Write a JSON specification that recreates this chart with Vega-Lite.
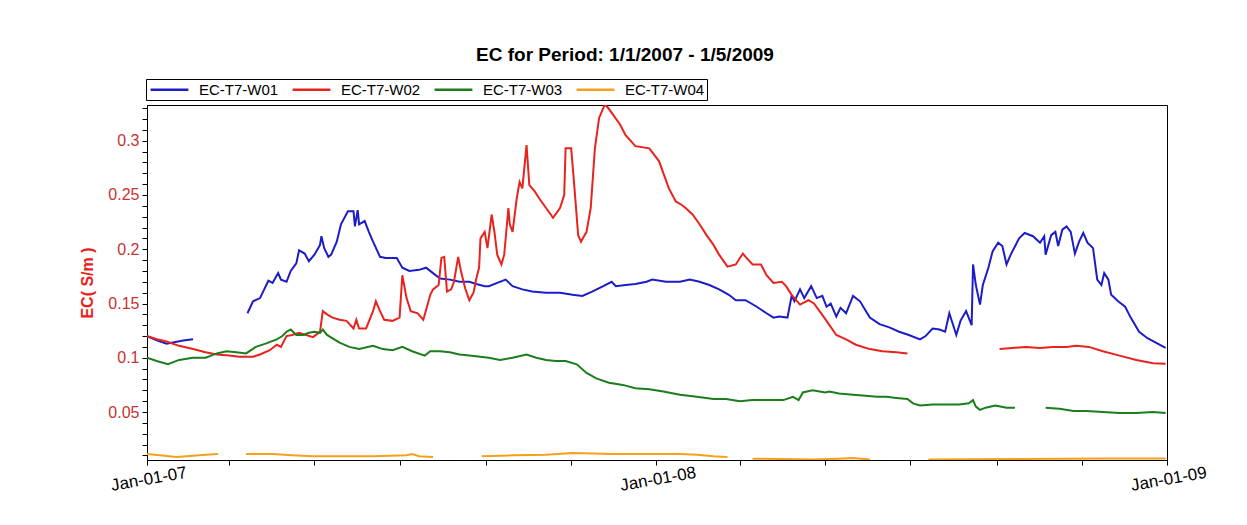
{
"$schema":"https://vega.github.io/schema/vega-lite/v6.json",
"autosize":{"type":"none"},
"padding":{"left":147,"top":105,"right":80,"bottom":65},
"width":1020,"height":355,
"background":"white",
"title":{"text":"EC for Period: 1/1/2007 - 1/5/2009","font":"Liberation Sans","fontSize":19,"fontWeight":"bold","color":"black","anchor":"middle","dx":-32,"offset":-1,"baseline":"alphabetic"},
"data":{"values":[
{"s":"EC-T7-W01","g":1,"d":"2007-01-01","v":0.120},{"s":"EC-T7-W01","g":1,"d":"2007-01-08","v":0.116},{"s":"EC-T7-W01","g":1,"d":"2007-01-15","v":0.113},{"s":"EC-T7-W01","g":1,"d":"2007-01-27","v":0.116},{"s":"EC-T7-W01","g":1,"d":"2007-02-03","v":0.117},
{"s":"EC-T7-W01","g":2,"d":"2007-03-14","v":0.141},{"s":"EC-T7-W01","g":2,"d":"2007-03-18","v":0.152},{"s":"EC-T7-W01","g":2,"d":"2007-03-23","v":0.155},{"s":"EC-T7-W01","g":2,"d":"2007-03-26","v":0.163},{"s":"EC-T7-W01","g":2,"d":"2007-03-29","v":0.171},{"s":"EC-T7-W01","g":2,"d":"2007-04-01","v":0.169},{"s":"EC-T7-W01","g":2,"d":"2007-04-05","v":0.178},{"s":"EC-T7-W01","g":2,"d":"2007-04-07","v":0.172},{"s":"EC-T7-W01","g":2,"d":"2007-04-11","v":0.170},{"s":"EC-T7-W01","g":2,"d":"2007-04-14","v":0.180},{"s":"EC-T7-W01","g":2,"d":"2007-04-18","v":0.187},{"s":"EC-T7-W01","g":2,"d":"2007-04-20","v":0.199},{"s":"EC-T7-W01","g":2,"d":"2007-04-24","v":0.196},{"s":"EC-T7-W01","g":2,"d":"2007-04-27","v":0.189},{"s":"EC-T7-W01","g":2,"d":"2007-05-01","v":0.195},{"s":"EC-T7-W01","g":2,"d":"2007-05-05","v":0.204},{"s":"EC-T7-W01","g":2,"d":"2007-05-06","v":0.212},{"s":"EC-T7-W01","g":2,"d":"2007-05-08","v":0.201},{"s":"EC-T7-W01","g":2,"d":"2007-05-11","v":0.193},{"s":"EC-T7-W01","g":2,"d":"2007-05-13","v":0.195},{"s":"EC-T7-W01","g":2,"d":"2007-05-17","v":0.207},{"s":"EC-T7-W01","g":2,"d":"2007-05-20","v":0.223},{"s":"EC-T7-W01","g":2,"d":"2007-05-25","v":0.235},{"s":"EC-T7-W01","g":2,"d":"2007-05-29","v":0.235},{"s":"EC-T7-W01","g":2,"d":"2007-05-30","v":0.221},{"s":"EC-T7-W01","g":2,"d":"2007-06-01","v":0.236},{"s":"EC-T7-W01","g":2,"d":"2007-06-02","v":0.223},{"s":"EC-T7-W01","g":2,"d":"2007-06-06","v":0.226},{"s":"EC-T7-W01","g":2,"d":"2007-06-09","v":0.216},{"s":"EC-T7-W01","g":2,"d":"2007-06-12","v":0.207},{"s":"EC-T7-W01","g":2,"d":"2007-06-17","v":0.193},{"s":"EC-T7-W01","g":2,"d":"2007-06-21","v":0.192},{"s":"EC-T7-W01","g":2,"d":"2007-06-29","v":0.192},{"s":"EC-T7-W01","g":2,"d":"2007-07-03","v":0.183},{"s":"EC-T7-W01","g":2,"d":"2007-07-08","v":0.180},{"s":"EC-T7-W01","g":2,"d":"2007-07-15","v":0.181},{"s":"EC-T7-W01","g":2,"d":"2007-07-20","v":0.183},{"s":"EC-T7-W01","g":2,"d":"2007-07-25","v":0.178},{"s":"EC-T7-W01","g":2,"d":"2007-07-30","v":0.173},{"s":"EC-T7-W01","g":2,"d":"2007-08-06","v":0.172},{"s":"EC-T7-W01","g":2,"d":"2007-08-13","v":0.170},{"s":"EC-T7-W01","g":2,"d":"2007-08-20","v":0.170},{"s":"EC-T7-W01","g":2,"d":"2007-08-25","v":0.168},{"s":"EC-T7-W01","g":2,"d":"2007-08-31","v":0.166},{"s":"EC-T7-W01","g":2,"d":"2007-09-03","v":0.166},{"s":"EC-T7-W01","g":2,"d":"2007-09-09","v":0.169},{"s":"EC-T7-W01","g":2,"d":"2007-09-15","v":0.172},{"s":"EC-T7-W01","g":2,"d":"2007-09-20","v":0.166},{"s":"EC-T7-W01","g":2,"d":"2007-09-27","v":0.163},{"s":"EC-T7-W01","g":2,"d":"2007-10-04","v":0.161},{"s":"EC-T7-W01","g":2,"d":"2007-10-14","v":0.160},{"s":"EC-T7-W01","g":2,"d":"2007-10-24","v":0.160},{"s":"EC-T7-W01","g":2,"d":"2007-11-02","v":0.158},{"s":"EC-T7-W01","g":2,"d":"2007-11-09","v":0.157},{"s":"EC-T7-W01","g":2,"d":"2007-11-16","v":0.161},{"s":"EC-T7-W01","g":2,"d":"2007-11-24","v":0.166},{"s":"EC-T7-W01","g":2,"d":"2007-11-30","v":0.170},{"s":"EC-T7-W01","g":2,"d":"2007-12-03","v":0.166},{"s":"EC-T7-W01","g":2,"d":"2007-12-10","v":0.167},{"s":"EC-T7-W01","g":2,"d":"2007-12-17","v":0.168},{"s":"EC-T7-W01","g":2,"d":"2007-12-25","v":0.170},{"s":"EC-T7-W01","g":2,"d":"2007-12-29","v":0.172},{"s":"EC-T7-W01","g":2,"d":"2008-01-08","v":0.170},{"s":"EC-T7-W01","g":2,"d":"2008-01-18","v":0.170},{"s":"EC-T7-W01","g":2,"d":"2008-01-25","v":0.172},{"s":"EC-T7-W01","g":2,"d":"2008-02-01","v":0.170},{"s":"EC-T7-W01","g":2,"d":"2008-02-08","v":0.167},{"s":"EC-T7-W01","g":2,"d":"2008-02-15","v":0.163},{"s":"EC-T7-W01","g":2,"d":"2008-02-22","v":0.158},{"s":"EC-T7-W01","g":2,"d":"2008-02-27","v":0.153},{"s":"EC-T7-W01","g":2,"d":"2008-03-05","v":0.153},{"s":"EC-T7-W01","g":2,"d":"2008-03-13","v":0.147},{"s":"EC-T7-W01","g":2,"d":"2008-03-20","v":0.141},{"s":"EC-T7-W01","g":2,"d":"2008-03-25","v":0.137},{"s":"EC-T7-W01","g":2,"d":"2008-03-29","v":0.138},{"s":"EC-T7-W01","g":2,"d":"2008-04-04","v":0.137},{"s":"EC-T7-W01","g":2,"d":"2008-04-07","v":0.157},{"s":"EC-T7-W01","g":2,"d":"2008-04-09","v":0.152},{"s":"EC-T7-W01","g":2,"d":"2008-04-13","v":0.163},{"s":"EC-T7-W01","g":2,"d":"2008-04-16","v":0.155},{"s":"EC-T7-W01","g":2,"d":"2008-04-21","v":0.166},{"s":"EC-T7-W01","g":2,"d":"2008-04-25","v":0.155},{"s":"EC-T7-W01","g":2,"d":"2008-04-29","v":0.157},{"s":"EC-T7-W01","g":2,"d":"2008-05-02","v":0.147},{"s":"EC-T7-W01","g":2,"d":"2008-05-05","v":0.150},{"s":"EC-T7-W01","g":2,"d":"2008-05-09","v":0.138},{"s":"EC-T7-W01","g":2,"d":"2008-05-12","v":0.146},{"s":"EC-T7-W01","g":2,"d":"2008-05-16","v":0.141},{"s":"EC-T7-W01","g":2,"d":"2008-05-21","v":0.157},{"s":"EC-T7-W01","g":2,"d":"2008-05-26","v":0.152},{"s":"EC-T7-W01","g":2,"d":"2008-06-02","v":0.137},{"s":"EC-T7-W01","g":2,"d":"2008-06-09","v":0.131},{"s":"EC-T7-W01","g":2,"d":"2008-06-16","v":0.128},{"s":"EC-T7-W01","g":2,"d":"2008-06-23","v":0.124},{"s":"EC-T7-W01","g":2,"d":"2008-06-30","v":0.121},{"s":"EC-T7-W01","g":2,"d":"2008-07-08","v":0.117},{"s":"EC-T7-W01","g":2,"d":"2008-07-12","v":0.120},{"s":"EC-T7-W01","g":2,"d":"2008-07-17","v":0.127},{"s":"EC-T7-W01","g":2,"d":"2008-07-22","v":0.126},{"s":"EC-T7-W01","g":2,"d":"2008-07-26","v":0.124},{"s":"EC-T7-W01","g":2,"d":"2008-07-29","v":0.141},{"s":"EC-T7-W01","g":2,"d":"2008-08-03","v":0.121},{"s":"EC-T7-W01","g":2,"d":"2008-08-06","v":0.134},{"s":"EC-T7-W01","g":2,"d":"2008-08-10","v":0.143},{"s":"EC-T7-W01","g":2,"d":"2008-08-14","v":0.130},{"s":"EC-T7-W01","g":2,"d":"2008-08-15","v":0.186},{"s":"EC-T7-W01","g":2,"d":"2008-08-17","v":0.167},{"s":"EC-T7-W01","g":2,"d":"2008-08-20","v":0.149},{"s":"EC-T7-W01","g":2,"d":"2008-08-22","v":0.167},{"s":"EC-T7-W01","g":2,"d":"2008-08-26","v":0.183},{"s":"EC-T7-W01","g":2,"d":"2008-08-29","v":0.198},{"s":"EC-T7-W01","g":2,"d":"2008-09-02","v":0.206},{"s":"EC-T7-W01","g":2,"d":"2008-09-05","v":0.203},{"s":"EC-T7-W01","g":2,"d":"2008-09-08","v":0.186},{"s":"EC-T7-W01","g":2,"d":"2008-09-11","v":0.195},{"s":"EC-T7-W01","g":2,"d":"2008-09-17","v":0.210},{"s":"EC-T7-W01","g":2,"d":"2008-09-21","v":0.215},{"s":"EC-T7-W01","g":2,"d":"2008-09-27","v":0.212},{"s":"EC-T7-W01","g":2,"d":"2008-10-02","v":0.206},{"s":"EC-T7-W01","g":2,"d":"2008-10-05","v":0.212},{"s":"EC-T7-W01","g":2,"d":"2008-10-06","v":0.195},{"s":"EC-T7-W01","g":2,"d":"2008-10-10","v":0.213},{"s":"EC-T7-W01","g":2,"d":"2008-10-13","v":0.216},{"s":"EC-T7-W01","g":2,"d":"2008-10-15","v":0.203},{"s":"EC-T7-W01","g":2,"d":"2008-10-18","v":0.218},{"s":"EC-T7-W01","g":2,"d":"2008-10-21","v":0.221},{"s":"EC-T7-W01","g":2,"d":"2008-10-24","v":0.216},{"s":"EC-T7-W01","g":2,"d":"2008-10-27","v":0.196},{"s":"EC-T7-W01","g":2,"d":"2008-10-30","v":0.207},{"s":"EC-T7-W01","g":2,"d":"2008-11-02","v":0.215},{"s":"EC-T7-W01","g":2,"d":"2008-11-05","v":0.206},{"s":"EC-T7-W01","g":2,"d":"2008-11-09","v":0.201},{"s":"EC-T7-W01","g":2,"d":"2008-11-12","v":0.172},{"s":"EC-T7-W01","g":2,"d":"2008-11-15","v":0.167},{"s":"EC-T7-W01","g":2,"d":"2008-11-17","v":0.178},{"s":"EC-T7-W01","g":2,"d":"2008-11-20","v":0.172},{"s":"EC-T7-W01","g":2,"d":"2008-11-22","v":0.158},{"s":"EC-T7-W01","g":2,"d":"2008-11-27","v":0.152},{"s":"EC-T7-W01","g":2,"d":"2008-12-02","v":0.147},{"s":"EC-T7-W01","g":2,"d":"2008-12-06","v":0.137},{"s":"EC-T7-W01","g":2,"d":"2008-12-12","v":0.124},{"s":"EC-T7-W01","g":2,"d":"2008-12-18","v":0.118},{"s":"EC-T7-W01","g":2,"d":"2008-12-24","v":0.114},{"s":"EC-T7-W01","g":2,"d":"2008-12-31","v":0.109},
{"s":"EC-T7-W02","g":1,"d":"2007-01-01","v":0.120},{"s":"EC-T7-W02","g":1,"d":"2007-01-08","v":0.117},{"s":"EC-T7-W02","g":1,"d":"2007-01-15","v":0.115},{"s":"EC-T7-W02","g":1,"d":"2007-01-24","v":0.111},{"s":"EC-T7-W02","g":1,"d":"2007-02-03","v":0.108},{"s":"EC-T7-W02","g":1,"d":"2007-02-12","v":0.105},{"s":"EC-T7-W02","g":1,"d":"2007-02-20","v":0.103},{"s":"EC-T7-W02","g":1,"d":"2007-03-01","v":0.102},{"s":"EC-T7-W02","g":1,"d":"2007-03-08","v":0.101},{"s":"EC-T7-W02","g":1,"d":"2007-03-18","v":0.101},{"s":"EC-T7-W02","g":1,"d":"2007-03-23","v":0.103},{"s":"EC-T7-W02","g":1,"d":"2007-03-30","v":0.107},{"s":"EC-T7-W02","g":1,"d":"2007-04-04","v":0.112},{"s":"EC-T7-W02","g":1,"d":"2007-04-07","v":0.110},{"s":"EC-T7-W02","g":1,"d":"2007-04-11","v":0.120},{"s":"EC-T7-W02","g":1,"d":"2007-04-15","v":0.121},{"s":"EC-T7-W02","g":1,"d":"2007-04-20","v":0.123},{"s":"EC-T7-W02","g":1,"d":"2007-04-25","v":0.121},{"s":"EC-T7-W02","g":1,"d":"2007-04-30","v":0.119},{"s":"EC-T7-W02","g":1,"d":"2007-05-05","v":0.124},{"s":"EC-T7-W02","g":1,"d":"2007-05-07","v":0.143},{"s":"EC-T7-W02","g":1,"d":"2007-05-10","v":0.140},{"s":"EC-T7-W02","g":1,"d":"2007-05-14","v":0.137},{"s":"EC-T7-W02","g":1,"d":"2007-05-19","v":0.135},{"s":"EC-T7-W02","g":1,"d":"2007-05-24","v":0.134},{"s":"EC-T7-W02","g":1,"d":"2007-05-29","v":0.127},{"s":"EC-T7-W02","g":1,"d":"2007-05-31","v":0.135},{"s":"EC-T7-W02","g":1,"d":"2007-06-02","v":0.127},{"s":"EC-T7-W02","g":1,"d":"2007-06-07","v":0.127},{"s":"EC-T7-W02","g":1,"d":"2007-06-12","v":0.143},{"s":"EC-T7-W02","g":1,"d":"2007-06-14","v":0.152},{"s":"EC-T7-W02","g":1,"d":"2007-06-17","v":0.143},{"s":"EC-T7-W02","g":1,"d":"2007-06-20","v":0.135},{"s":"EC-T7-W02","g":1,"d":"2007-06-26","v":0.134},{"s":"EC-T7-W02","g":1,"d":"2007-07-01","v":0.137},{"s":"EC-T7-W02","g":1,"d":"2007-07-03","v":0.176},{"s":"EC-T7-W02","g":1,"d":"2007-07-06","v":0.155},{"s":"EC-T7-W02","g":1,"d":"2007-07-09","v":0.143},{"s":"EC-T7-W02","g":1,"d":"2007-07-14","v":0.141},{"s":"EC-T7-W02","g":1,"d":"2007-07-18","v":0.135},{"s":"EC-T7-W02","g":1,"d":"2007-07-20","v":0.144},{"s":"EC-T7-W02","g":1,"d":"2007-07-23","v":0.158},{"s":"EC-T7-W02","g":1,"d":"2007-07-25","v":0.163},{"s":"EC-T7-W02","g":1,"d":"2007-07-29","v":0.167},{"s":"EC-T7-W02","g":1,"d":"2007-07-31","v":0.192},{"s":"EC-T7-W02","g":1,"d":"2007-08-02","v":0.193},{"s":"EC-T7-W02","g":1,"d":"2007-08-04","v":0.161},{"s":"EC-T7-W02","g":1,"d":"2007-08-07","v":0.163},{"s":"EC-T7-W02","g":1,"d":"2007-08-09","v":0.170},{"s":"EC-T7-W02","g":1,"d":"2007-08-12","v":0.193},{"s":"EC-T7-W02","g":1,"d":"2007-08-14","v":0.180},{"s":"EC-T7-W02","g":1,"d":"2007-08-17","v":0.164},{"s":"EC-T7-W02","g":1,"d":"2007-08-20","v":0.153},{"s":"EC-T7-W02","g":1,"d":"2007-08-23","v":0.160},{"s":"EC-T7-W02","g":1,"d":"2007-08-25","v":0.173},{"s":"EC-T7-W02","g":1,"d":"2007-08-27","v":0.183},{"s":"EC-T7-W02","g":1,"d":"2007-08-28","v":0.210},{"s":"EC-T7-W02","g":1,"d":"2007-08-31","v":0.216},{"s":"EC-T7-W02","g":1,"d":"2007-09-02","v":0.201},{"s":"EC-T7-W02","g":1,"d":"2007-09-05","v":0.232},{"s":"EC-T7-W02","g":1,"d":"2007-09-07","v":0.216},{"s":"EC-T7-W02","g":1,"d":"2007-09-09","v":0.195},{"s":"EC-T7-W02","g":1,"d":"2007-09-12","v":0.186},{"s":"EC-T7-W02","g":1,"d":"2007-09-14","v":0.195},{"s":"EC-T7-W02","g":1,"d":"2007-09-17","v":0.238},{"s":"EC-T7-W02","g":1,"d":"2007-09-18","v":0.223},{"s":"EC-T7-W02","g":1,"d":"2007-09-20","v":0.216},{"s":"EC-T7-W02","g":1,"d":"2007-09-23","v":0.247},{"s":"EC-T7-W02","g":1,"d":"2007-09-25","v":0.262},{"s":"EC-T7-W02","g":1,"d":"2007-09-27","v":0.256},{"s":"EC-T7-W02","g":1,"d":"2007-09-30","v":0.296},{"s":"EC-T7-W02","g":1,"d":"2007-10-02","v":0.259},{"s":"EC-T7-W02","g":1,"d":"2007-10-06","v":0.253},{"s":"EC-T7-W02","g":1,"d":"2007-10-09","v":0.247},{"s":"EC-T7-W02","g":1,"d":"2007-10-14","v":0.238},{"s":"EC-T7-W02","g":1,"d":"2007-10-19","v":0.229},{"s":"EC-T7-W02","g":1,"d":"2007-10-24","v":0.238},{"s":"EC-T7-W02","g":1,"d":"2007-10-27","v":0.250},{"s":"EC-T7-W02","g":1,"d":"2007-10-28","v":0.293},{"s":"EC-T7-W02","g":1,"d":"2007-11-01","v":0.293},{"s":"EC-T7-W02","g":1,"d":"2007-11-03","v":0.262},{"s":"EC-T7-W02","g":1,"d":"2007-11-06","v":0.213},{"s":"EC-T7-W02","g":1,"d":"2007-11-08","v":0.207},{"s":"EC-T7-W02","g":1,"d":"2007-11-12","v":0.216},{"s":"EC-T7-W02","g":1,"d":"2007-11-15","v":0.238},{"s":"EC-T7-W02","g":1,"d":"2007-11-18","v":0.293},{"s":"EC-T7-W02","g":1,"d":"2007-11-21","v":0.321},{"s":"EC-T7-W02","g":1,"d":"2007-11-25","v":0.333},{"s":"EC-T7-W02","g":1,"d":"2007-11-27","v":0.331},{"s":"EC-T7-W02","g":1,"d":"2007-12-01","v":0.324},{"s":"EC-T7-W02","g":1,"d":"2007-12-06","v":0.315},{"s":"EC-T7-W02","g":1,"d":"2007-12-10","v":0.305},{"s":"EC-T7-W02","g":1,"d":"2007-12-17","v":0.295},{"s":"EC-T7-W02","g":1,"d":"2007-12-27","v":0.293},{"s":"EC-T7-W02","g":1,"d":"2008-01-03","v":0.281},{"s":"EC-T7-W02","g":1,"d":"2008-01-10","v":0.256},{"s":"EC-T7-W02","g":1,"d":"2008-01-15","v":0.244},{"s":"EC-T7-W02","g":1,"d":"2008-01-19","v":0.241},{"s":"EC-T7-W02","g":1,"d":"2008-01-22","v":0.238},{"s":"EC-T7-W02","g":1,"d":"2008-01-27","v":0.232},{"s":"EC-T7-W02","g":1,"d":"2008-02-01","v":0.223},{"s":"EC-T7-W02","g":1,"d":"2008-02-06","v":0.213},{"s":"EC-T7-W02","g":1,"d":"2008-02-11","v":0.204},{"s":"EC-T7-W02","g":1,"d":"2008-02-15","v":0.195},{"s":"EC-T7-W02","g":1,"d":"2008-02-21","v":0.184},{"s":"EC-T7-W02","g":1,"d":"2008-02-27","v":0.186},{"s":"EC-T7-W02","g":1,"d":"2008-03-03","v":0.196},{"s":"EC-T7-W02","g":1,"d":"2008-03-05","v":0.193},{"s":"EC-T7-W02","g":1,"d":"2008-03-10","v":0.186},{"s":"EC-T7-W02","g":1,"d":"2008-03-16","v":0.186},{"s":"EC-T7-W02","g":1,"d":"2008-03-20","v":0.176},{"s":"EC-T7-W02","g":1,"d":"2008-03-25","v":0.169},{"s":"EC-T7-W02","g":1,"d":"2008-03-31","v":0.170},{"s":"EC-T7-W02","g":1,"d":"2008-04-03","v":0.166},{"s":"EC-T7-W02","g":1,"d":"2008-04-07","v":0.158},{"s":"EC-T7-W02","g":1,"d":"2008-04-13","v":0.149},{"s":"EC-T7-W02","g":1,"d":"2008-04-19","v":0.153},{"s":"EC-T7-W02","g":1,"d":"2008-04-23","v":0.150},{"s":"EC-T7-W02","g":1,"d":"2008-04-27","v":0.143},{"s":"EC-T7-W02","g":1,"d":"2008-05-02","v":0.134},{"s":"EC-T7-W02","g":1,"d":"2008-05-09","v":0.121},{"s":"EC-T7-W02","g":1,"d":"2008-05-16","v":0.117},{"s":"EC-T7-W02","g":1,"d":"2008-05-23","v":0.112},{"s":"EC-T7-W02","g":1,"d":"2008-06-02","v":0.108},{"s":"EC-T7-W02","g":1,"d":"2008-06-11","v":0.106},{"s":"EC-T7-W02","g":1,"d":"2008-06-21","v":0.105},{"s":"EC-T7-W02","g":1,"d":"2008-06-29","v":0.104},
{"s":"EC-T7-W02","g":2,"d":"2008-09-03","v":0.108},{"s":"EC-T7-W02","g":2,"d":"2008-09-12","v":0.109},{"s":"EC-T7-W02","g":2,"d":"2008-09-22","v":0.110},{"s":"EC-T7-W02","g":2,"d":"2008-10-02","v":0.109},{"s":"EC-T7-W02","g":2,"d":"2008-10-11","v":0.110},{"s":"EC-T7-W02","g":2,"d":"2008-10-21","v":0.110},{"s":"EC-T7-W02","g":2,"d":"2008-10-28","v":0.111},{"s":"EC-T7-W02","g":2,"d":"2008-11-06","v":0.110},{"s":"EC-T7-W02","g":2,"d":"2008-11-16","v":0.106},{"s":"EC-T7-W02","g":2,"d":"2008-11-28","v":0.102},{"s":"EC-T7-W02","g":2,"d":"2008-12-10","v":0.098},{"s":"EC-T7-W02","g":2,"d":"2008-12-22","v":0.095},{"s":"EC-T7-W02","g":2,"d":"2008-12-31","v":0.0945},
{"s":"EC-T7-W03","g":1,"d":"2007-01-01","v":0.100},{"s":"EC-T7-W03","g":1,"d":"2007-01-08","v":0.097},{"s":"EC-T7-W03","g":1,"d":"2007-01-16","v":0.094},{"s":"EC-T7-W03","g":1,"d":"2007-01-24","v":0.098},{"s":"EC-T7-W03","g":1,"d":"2007-02-03","v":0.100},{"s":"EC-T7-W03","g":1,"d":"2007-02-12","v":0.100},{"s":"EC-T7-W03","g":1,"d":"2007-02-20","v":0.104},{"s":"EC-T7-W03","g":1,"d":"2007-02-27","v":0.106},{"s":"EC-T7-W03","g":1,"d":"2007-03-06","v":0.105},{"s":"EC-T7-W03","g":1,"d":"2007-03-13","v":0.104},{"s":"EC-T7-W03","g":1,"d":"2007-03-20","v":0.110},{"s":"EC-T7-W03","g":1,"d":"2007-03-27","v":0.113},{"s":"EC-T7-W03","g":1,"d":"2007-04-04","v":0.117},{"s":"EC-T7-W03","g":1,"d":"2007-04-08","v":0.120},{"s":"EC-T7-W03","g":1,"d":"2007-04-11","v":0.124},{"s":"EC-T7-W03","g":1,"d":"2007-04-14","v":0.126},{"s":"EC-T7-W03","g":1,"d":"2007-04-18","v":0.121},{"s":"EC-T7-W03","g":1,"d":"2007-04-23","v":0.121},{"s":"EC-T7-W03","g":1,"d":"2007-04-27","v":0.123},{"s":"EC-T7-W03","g":1,"d":"2007-05-01","v":0.124},{"s":"EC-T7-W03","g":1,"d":"2007-05-05","v":0.123},{"s":"EC-T7-W03","g":1,"d":"2007-05-07","v":0.126},{"s":"EC-T7-W03","g":1,"d":"2007-05-10","v":0.121},{"s":"EC-T7-W03","g":1,"d":"2007-05-19","v":0.114},{"s":"EC-T7-W03","g":1,"d":"2007-05-26","v":0.110},{"s":"EC-T7-W03","g":1,"d":"2007-06-02","v":0.108},{"s":"EC-T7-W03","g":1,"d":"2007-06-12","v":0.111},{"s":"EC-T7-W03","g":1,"d":"2007-06-19","v":0.108},{"s":"EC-T7-W03","g":1,"d":"2007-06-26","v":0.107},{"s":"EC-T7-W03","g":1,"d":"2007-07-03","v":0.110},{"s":"EC-T7-W03","g":1,"d":"2007-07-10","v":0.106},{"s":"EC-T7-W03","g":1,"d":"2007-07-19","v":0.102},{"s":"EC-T7-W03","g":1,"d":"2007-07-23","v":0.106},{"s":"EC-T7-W03","g":1,"d":"2007-07-30","v":0.106},{"s":"EC-T7-W03","g":1,"d":"2007-08-06","v":0.105},{"s":"EC-T7-W03","g":1,"d":"2007-08-13","v":0.103},{"s":"EC-T7-W03","g":1,"d":"2007-08-20","v":0.102},{"s":"EC-T7-W03","g":1,"d":"2007-09-03","v":0.100},{"s":"EC-T7-W03","g":1,"d":"2007-09-11","v":0.098},{"s":"EC-T7-W03","g":1,"d":"2007-09-20","v":0.100},{"s":"EC-T7-W03","g":1,"d":"2007-09-30","v":0.103},{"s":"EC-T7-W03","g":1,"d":"2007-10-07","v":0.100},{"s":"EC-T7-W03","g":1,"d":"2007-10-14","v":0.098},{"s":"EC-T7-W03","g":1,"d":"2007-10-21","v":0.097},{"s":"EC-T7-W03","g":1,"d":"2007-10-28","v":0.097},{"s":"EC-T7-W03","g":1,"d":"2007-11-05","v":0.094},{"s":"EC-T7-W03","g":1,"d":"2007-11-12","v":0.086},{"s":"EC-T7-W03","g":1,"d":"2007-11-19","v":0.081},{"s":"EC-T7-W03","g":1,"d":"2007-11-28","v":0.077},{"s":"EC-T7-W03","g":1,"d":"2007-12-08","v":0.075},{"s":"EC-T7-W03","g":1,"d":"2007-12-17","v":0.072},{"s":"EC-T7-W03","g":1,"d":"2007-12-27","v":0.071},{"s":"EC-T7-W03","g":1,"d":"2008-01-06","v":0.069},{"s":"EC-T7-W03","g":1,"d":"2008-01-18","v":0.066},{"s":"EC-T7-W03","g":1,"d":"2008-01-30","v":0.064},{"s":"EC-T7-W03","g":1,"d":"2008-02-11","v":0.062},{"s":"EC-T7-W03","g":1,"d":"2008-02-20","v":0.062},{"s":"EC-T7-W03","g":1,"d":"2008-03-01","v":0.060},{"s":"EC-T7-W03","g":1,"d":"2008-03-10","v":0.061},{"s":"EC-T7-W03","g":1,"d":"2008-03-22","v":0.061},{"s":"EC-T7-W03","g":1,"d":"2008-04-01","v":0.061},{"s":"EC-T7-W03","g":1,"d":"2008-04-08","v":0.064},{"s":"EC-T7-W03","g":1,"d":"2008-04-12","v":0.061},{"s":"EC-T7-W03","g":1,"d":"2008-04-15","v":0.068},{"s":"EC-T7-W03","g":1,"d":"2008-04-22","v":0.070},{"s":"EC-T7-W03","g":1,"d":"2008-05-01","v":0.068},{"s":"EC-T7-W03","g":1,"d":"2008-05-04","v":0.069},{"s":"EC-T7-W03","g":1,"d":"2008-05-11","v":0.067},{"s":"EC-T7-W03","g":1,"d":"2008-05-21","v":0.066},{"s":"EC-T7-W03","g":1,"d":"2008-05-30","v":0.065},{"s":"EC-T7-W03","g":1,"d":"2008-06-07","v":0.064},{"s":"EC-T7-W03","g":1,"d":"2008-06-14","v":0.064},{"s":"EC-T7-W03","g":1,"d":"2008-06-21","v":0.063},{"s":"EC-T7-W03","g":1,"d":"2008-06-29","v":0.062},{"s":"EC-T7-W03","g":1,"d":"2008-07-03","v":0.058},{"s":"EC-T7-W03","g":1,"d":"2008-07-08","v":0.056},{"s":"EC-T7-W03","g":1,"d":"2008-07-17","v":0.057},{"s":"EC-T7-W03","g":1,"d":"2008-07-27","v":0.057},{"s":"EC-T7-W03","g":1,"d":"2008-08-05","v":0.057},{"s":"EC-T7-W03","g":1,"d":"2008-08-12","v":0.058},{"s":"EC-T7-W03","g":1,"d":"2008-08-15","v":0.061},{"s":"EC-T7-W03","g":1,"d":"2008-08-17","v":0.055},{"s":"EC-T7-W03","g":1,"d":"2008-08-20","v":0.052},{"s":"EC-T7-W03","g":1,"d":"2008-08-24","v":0.054},{"s":"EC-T7-W03","g":1,"d":"2008-08-31","v":0.056},{"s":"EC-T7-W03","g":1,"d":"2008-09-08","v":0.054},{"s":"EC-T7-W03","g":1,"d":"2008-09-14","v":0.054},
{"s":"EC-T7-W03","g":2,"d":"2008-10-06","v":0.054},{"s":"EC-T7-W03","g":2,"d":"2008-10-16","v":0.053},{"s":"EC-T7-W03","g":2,"d":"2008-10-26","v":0.051},{"s":"EC-T7-W03","g":2,"d":"2008-11-04","v":0.051},{"s":"EC-T7-W03","g":2,"d":"2008-11-16","v":0.050},{"s":"EC-T7-W03","g":2,"d":"2008-11-28","v":0.049},{"s":"EC-T7-W03","g":2,"d":"2008-12-10","v":0.049},{"s":"EC-T7-W03","g":2,"d":"2008-12-22","v":0.050},{"s":"EC-T7-W03","g":2,"d":"2008-12-31","v":0.049},
{"s":"EC-T7-W04","g":1,"d":"2007-01-01","v":0.0113},{"s":"EC-T7-W04","g":1,"d":"2007-01-10","v":0.0101},{"s":"EC-T7-W04","g":1,"d":"2007-01-22","v":0.0085},{"s":"EC-T7-W04","g":1,"d":"2007-02-03","v":0.0098},{"s":"EC-T7-W04","g":1,"d":"2007-02-12","v":0.0107},{"s":"EC-T7-W04","g":1,"d":"2007-02-21","v":0.0113},
{"s":"EC-T7-W04","g":2,"d":"2007-03-13","v":0.0113},{"s":"EC-T7-W04","g":2,"d":"2007-04-01","v":0.0113},{"s":"EC-T7-W04","g":2,"d":"2007-04-15","v":0.0101},{"s":"EC-T7-W04","g":2,"d":"2007-04-30","v":0.0092},{"s":"EC-T7-W04","g":2,"d":"2007-05-19","v":0.0092},{"s":"EC-T7-W04","g":2,"d":"2007-06-12","v":0.0092},{"s":"EC-T7-W04","g":2,"d":"2007-07-06","v":0.0101},{"s":"EC-T7-W04","g":2,"d":"2007-07-10","v":0.0113},{"s":"EC-T7-W04","g":2,"d":"2007-07-15","v":0.0092},{"s":"EC-T7-W04","g":2,"d":"2007-07-25","v":0.0085},
{"s":"EC-T7-W04","g":3,"d":"2007-08-29","v":0.0092},{"s":"EC-T7-W04","g":3,"d":"2007-09-20","v":0.0101},{"s":"EC-T7-W04","g":3,"d":"2007-10-14","v":0.0107},{"s":"EC-T7-W04","g":3,"d":"2007-11-02","v":0.0122},{"s":"EC-T7-W04","g":3,"d":"2007-12-01","v":0.0113},{"s":"EC-T7-W04","g":3,"d":"2007-12-25","v":0.0113},{"s":"EC-T7-W04","g":3,"d":"2008-01-18","v":0.0113},{"s":"EC-T7-W04","g":3,"d":"2008-01-30","v":0.0107},{"s":"EC-T7-W04","g":3,"d":"2008-02-11","v":0.0092},{"s":"EC-T7-W04","g":3,"d":"2008-02-21","v":0.0085},
{"s":"EC-T7-W04","g":4,"d":"2008-03-10","v":0.0070},{"s":"EC-T7-W04","g":4,"d":"2008-03-29","v":0.0067},{"s":"EC-T7-W04","g":4,"d":"2008-04-22","v":0.0062},{"s":"EC-T7-W04","g":4,"d":"2008-05-11","v":0.0070},{"s":"EC-T7-W04","g":4,"d":"2008-05-21","v":0.0076},{"s":"EC-T7-W04","g":4,"d":"2008-06-02","v":0.0062},
{"s":"EC-T7-W04","g":5,"d":"2008-07-14","v":0.0062},{"s":"EC-T7-W04","g":5,"d":"2008-08-15","v":0.0064},{"s":"EC-T7-W04","g":5,"d":"2008-09-17","v":0.0068},{"s":"EC-T7-W04","g":5,"d":"2008-10-20","v":0.0070},{"s":"EC-T7-W04","g":5,"d":"2008-11-20","v":0.0072},{"s":"EC-T7-W04","g":5,"d":"2008-12-31","v":0.0072}
]},
"mark":{"type":"line","strokeWidth":2,"clip":true},
"encoding":{
"x":{"field":"d","type":"temporal","scale":{"type":"utc","domain":[{"year":2007,"month":1,"date":1,"utc":true},{"year":2009,"month":1,"date":1,"utc":true}]},
"axis":{"title":null,"grid":false,"values":[{"year":2007,"month":1,"date":1,"utc":true},{"year":2007,"month":3,"date":1,"utc":true},{"year":2007,"month":5,"date":1,"utc":true},{"year":2007,"month":7,"date":1,"utc":true},{"year":2007,"month":9,"date":1,"utc":true},{"year":2007,"month":11,"date":1,"utc":true},{"year":2008,"month":1,"date":1,"utc":true},{"year":2008,"month":3,"date":1,"utc":true},{"year":2008,"month":5,"date":1,"utc":true},{"year":2008,"month":7,"date":1,"utc":true},{"year":2008,"month":9,"date":1,"utc":true},{"year":2008,"month":11,"date":1,"utc":true},{"year":2009,"month":1,"date":1,"utc":true}],
"labelExpr":"utcmonth(datum.value)==0 ? utcFormat(datum.value,'%b-%d-%y') : ''","labelAngle":-10,"labelAlign":"center","labelBaseline":"top","labelFont":"Liberation Sans","labelFontSize":17,"labelColor":"black","labelPadding":6,"labelFlush":false,"labelBound":false,"labelOverlap":false,"tickColor":"black","tickSize":5,"domainColor":"black"}},
"y":{"field":"v","type":"quantitative","scale":{"domain":[0.0058,0.3329],"nice":false,"zero":false},
"axis":{"title":"EC( S/m )","titleColor":"#e8221b","titleFont":"Liberation Sans","titleFontSize":16,"titleFontWeight":"bold","titlePadding":12,"grid":false,
"values":[0.01,0.02,0.03,0.04,0.05,0.06,0.07,0.08,0.09,0.1,0.11,0.12,0.13,0.14,0.15,0.16,0.17,0.18,0.19,0.2,0.21,0.22,0.23,0.24,0.25,0.26,0.27,0.28,0.29,0.3,0.31,0.32,0.33],
"labelExpr":"abs(round(datum.value*100)%5)==0 ? format(datum.value,'.2~f') : ''","labelColor":"#c83232","labelFont":"Liberation Sans","labelFontSize":16,"labelPadding":3,"labelFlush":false,"labelOverlap":false,"tickColor":"black","tickSize":5,"domainColor":"black"}},
"color":{"field":"s","type":"nominal","scale":{"domain":["EC-T7-W01","EC-T7-W02","EC-T7-W03","EC-T7-W04"],"range":["#1c1cc8","#e8231d","#1b7d1b","#f4a01c"]},
"legend":{"title":null,"orient":"none","legendX":-1,"legendY":-26,"direction":"horizontal","columns":4,"strokeColor":"black","fillColor":"white","padding":2,"symbolType":"M-2.7,0H2.7","symbolSize":196,"symbolStrokeWidth":2.5,"symbolOffset":13,"labelOffset":21,"labelFont":"Liberation Sans","labelFontSize":15,"labelColor":"black","columnPadding":8,"rowPadding":0,"labelLimit":300}},
"detail":{"field":"g","type":"nominal"}
},
"config":{"view":{"stroke":"black","strokeWidth":1}}
}
